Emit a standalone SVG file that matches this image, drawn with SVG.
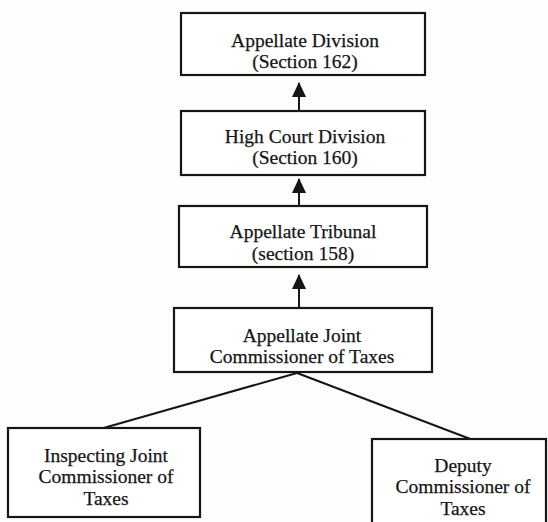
<svg xmlns="http://www.w3.org/2000/svg" width="548" height="522" viewBox="0 0 548 522">
  <style>
    .box { fill: #ffffff; stroke: #161616; stroke-width: 2.2; }
    .lbl { font-family: "Liberation Serif", "Times New Roman", serif; font-size: 19.5px; fill: #161616; stroke: #161616; stroke-width: 0.25; text-anchor: middle; }
    .edge { stroke: #161616; stroke-width: 2; fill: none; }
  </style>
  <defs>
    <!-- solid triangular head, drawn pointing along the line direction -->
    <marker id="head" viewBox="0 0 15 14" refX="14" refY="7" markerWidth="15" markerHeight="14" markerUnits="userSpaceOnUse" orient="auto">
      <path d="M0,0 L15,7 L0,14 Z" fill="#161616"/>
    </marker>
  </defs>
  <rect width="548" height="522" fill="#fdfdfb"/>

  <g id="connectors">
    <line class="edge" x1="299" y1="111" x2="299" y2="83" marker-end="url(#head)"/>
    <line class="edge" x1="299" y1="206" x2="299" y2="179" marker-end="url(#head)"/>
    <line class="edge" x1="299" y1="308" x2="299" y2="275" marker-end="url(#head)"/>
    <line class="edge" x1="297" y1="373" x2="100" y2="429"/>
    <line class="edge" x1="297" y1="373" x2="473" y2="440"/>
  </g>

  <g id="appellate-division">
    <rect class="box" x="181" y="13" width="244" height="62"/>
    <text class="lbl" x="305" y="47">Appellate Division</text>
    <text class="lbl" x="305" y="68">(Section 162)</text>
  </g>

  <g id="high-court-division">
    <rect class="box" x="181" y="111" width="244" height="64"/>
    <text class="lbl" x="305" y="143">High Court Division</text>
    <text class="lbl" x="305" y="164">(Section 160)</text>
  </g>

  <g id="appellate-tribunal">
    <rect class="box" x="179" y="206" width="248" height="61"/>
    <text class="lbl" x="303" y="238">Appellate Tribunal</text>
    <text class="lbl" x="303" y="260">(section 158)</text>
  </g>

  <g id="appellate-joint-commissioner">
    <rect class="box" x="174" y="308" width="258" height="64"/>
    <text class="lbl" x="302" y="342">Appellate Joint</text>
    <text class="lbl" x="302" y="363">Commissioner of Taxes</text>
  </g>

  <g id="inspecting-joint-commissioner">
    <rect class="box" x="8" y="428" width="192" height="89"/>
    <text class="lbl" x="106" y="462">Inspecting Joint</text>
    <text class="lbl" x="106" y="483">Commissioner of</text>
    <text class="lbl" x="106" y="505">Taxes</text>
  </g>

  <g id="deputy-commissioner">
    <rect class="box" x="372" y="439" width="174" height="95"/>
    <text class="lbl" x="463" y="472">Deputy</text>
    <text class="lbl" x="463" y="493">Commissioner of</text>
    <text class="lbl" x="463" y="515">Taxes</text>
  </g>
</svg>
